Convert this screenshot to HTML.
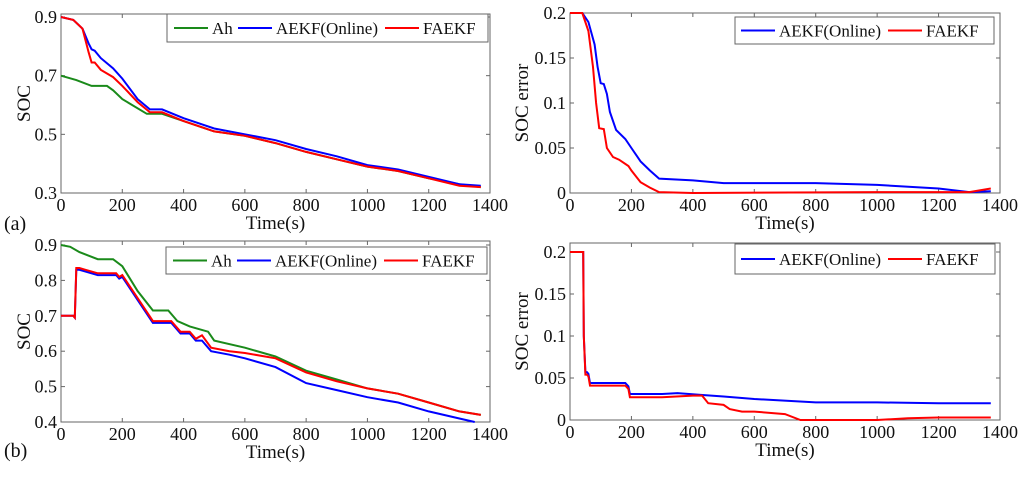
<!DOCTYPE html>
<html><head><meta charset="utf-8"><style>
body{margin:0;background:#fff;width:1024px;height:477px;overflow:hidden}
svg text{font-family:"Liberation Serif","Times New Roman",serif;}
</style></head><body>
<svg id="chart" width="1024" height="477" viewBox="0 0 1024 477"></svg>
<script>
// Panel (a)
const ahTa=[0,50,100,150,170,200,280,330,400,500,600,700,800,900,1000,1100,1200,1300,1370];
const ahA=[0.70,0.685,0.665,0.665,0.65,0.62,0.57,0.57,0.545,0.51,0.495,0.47,0.44,0.415,0.39,0.375,0.35,0.33,0.32];
const aekfTa=[0,40,70,90,100,110,130,170,200,250,290,330,400,500,600,700,800,900,1000,1100,1200,1300,1370];
const aekfA=[0.9,0.89,0.86,0.81,0.79,0.785,0.76,0.725,0.69,0.62,0.585,0.585,0.555,0.52,0.50,0.48,0.45,0.425,0.395,0.38,0.355,0.33,0.325];
const faekfA=[0.9,0.89,0.86,0.78,0.745,0.745,0.72,0.695,0.665,0.61,0.575,0.575,0.545,0.51,0.495,0.47,0.44,0.415,0.39,0.375,0.35,0.325,0.32];
// Panel (b)
const ahTb=[0,30,60,120,170,200,250,300,350,380,420,480,500,600,700,800,900,1000,1100,1200,1300,1370];
const ahB=[0.9,0.895,0.88,0.86,0.86,0.84,0.77,0.715,0.715,0.685,0.67,0.655,0.63,0.61,0.585,0.545,0.52,0.495,0.48,0.455,0.43,0.42];
const aekfTb=[0,40,45,50,60,80,120,180,190,200,250,300,360,390,420,440,460,490,550,600,700,800,900,1000,1100,1200,1300,1350];
const aekfB=[0.7,0.7,0.695,0.83,0.83,0.825,0.815,0.815,0.805,0.81,0.745,0.68,0.68,0.65,0.65,0.63,0.63,0.6,0.59,0.58,0.555,0.51,0.49,0.47,0.455,0.43,0.41,0.40];
const faekfTb=[0,40,45,50,60,80,120,180,190,200,250,300,360,390,420,440,460,490,550,600,700,800,900,1000,1100,1200,1300,1370];
const faekfB=[0.7,0.7,0.695,0.835,0.835,0.83,0.82,0.82,0.81,0.815,0.75,0.685,0.685,0.655,0.655,0.635,0.645,0.61,0.60,0.595,0.58,0.54,0.515,0.495,0.48,0.455,0.43,0.42];
// Panel (c) errors
const aekfTc=[0,40,60,80,90,100,110,120,130,150,180,200,230,260,290,400,500,800,1000,1200,1300,1370];
const aekfC=[0.2,0.2,0.19,0.165,0.14,0.122,0.121,0.11,0.09,0.07,0.06,0.05,0.035,0.025,0.016,0.014,0.011,0.011,0.009,0.005,0.001,0.002];
const faekfTc=[0,40,60,75,85,95,110,120,140,160,190,200,230,260,290,400,1000,1300,1370];
const faekfC=[0.2,0.2,0.18,0.14,0.1,0.072,0.071,0.05,0.04,0.037,0.03,0.025,0.012,0.006,0.001,0,0.001,0.001,0.005];
// Panel (d) errors
const aekfTd=[0,43,45,50,55,60,65,100,180,190,195,300,350,420,500,600,800,1000,1200,1370];
const aekfD=[0.2,0.2,0.1,0.057,0.057,0.055,0.044,0.044,0.044,0.04,0.031,0.031,0.032,0.03,0.028,0.025,0.021,0.021,0.02,0.02];
const faekfTd=[0,43,45,50,55,60,65,100,180,190,195,300,400,430,450,500,520,560,600,700,750,800,1000,1100,1200,1370];
const faekfD=[0.2,0.2,0.1,0.054,0.054,0.052,0.041,0.041,0.041,0.037,0.027,0.027,0.029,0.029,0.02,0.018,0.013,0.01,0.01,0.007,0,0,0,0.002,0.003,0.003];
const xTicks=[0,200,400,600,800,1000,1200,1400];
const yTicksA=["0.3","0.5","0.7","0.9"];
const yTicksB=["0.4","0.5","0.6","0.7","0.8","0.9"];
const yTicksErr=["0","0.05","0.1","0.15","0.2"];

const svg=document.getElementById('chart');
const NS='http://www.w3.org/2000/svg';
const FF='"Liberation Serif", serif';
function mk(tag,attrs,parent){const e=document.createElementNS(NS,tag);for(const k in attrs)e.setAttribute(k,attrs[k]);if(tag==='text')e.setAttribute('font-family',FF);(parent||svg).appendChild(e);return e;}

function panel(p){
  const g=mk('g',{});
  
  
  const sx=v=>p.x0+(v-0)/(1400)*(p.x1-p.x0);
  const sy=v=>p.yb+(v-p.ymin)/(p.ymax-p.ymin)*(p.yt-p.yb);
  const box=mk('rect',{x:p.x0,y:p.top,width:p.x1-p.x0,height:p.yb-p.top,fill:'none',stroke:'#666','stroke-width':1},g);
  
  xTicks.forEach(t=>{const x=sx(t);
    mk('line',{x1:x,x2:x,y1:p.yb,y2:p.yb-4,stroke:'#666'},g);
    mk('line',{x1:x,x2:x,y1:p.top,y2:p.top+4,stroke:'#666'},g);
    const tx=mk('text',{x:x,y:p.yb+18,'text-anchor':'middle','font-size':18,fill:'#111'},g);tx.textContent=t;
    });
  p.yticks.forEach(s=>{const y=sy(parseFloat(s));
    mk('line',{x1:p.x0,x2:p.x0+4,y1:y,y2:y,stroke:'#666'},g);
    mk('line',{x1:p.x1,x2:p.x1-4,y1:y,y2:y,stroke:'#666'},g);
    const tx=mk('text',{x:p.x0-4,y:y+6,'text-anchor':'end','font-size':18,fill:'#111'},g);tx.textContent=s;
    });
  const xl=mk('text',{x:(p.x0+p.x1)/2,y:p.yb+36,'text-anchor':'middle','font-size':19,fill:'#111'},g);xl.textContent='Time(s)';
  
  const yl=mk('text',{x:0,y:0,'text-anchor':'middle','font-size':19,fill:'#111',transform:`translate(${p.ylx},${(p.top+p.yb)/2}) rotate(-90)`},g);yl.textContent=p.ylabel;
  
  p.series.forEach(s=>{
    const pts=s.t.map((t,i)=>sx(t).toFixed(1)+','+sy(s.v[i]).toFixed(1)).join(' ');
    const l=mk('polyline',{points:pts,fill:'none',stroke:s.c,'stroke-width':2},g);
    
  });
  const L=p.legend;
  const lg=mk('g',{},g);
  
  mk('rect',{x:L.x,y:L.y,width:L.w,height:L.h,fill:'#fff',stroke:'#666'},lg);
  L.items.forEach(it=>{
    mk('line',{x1:it.x,x2:it.x+34,y1:L.y+L.h/2,y2:L.y+L.h/2,stroke:it.c,'stroke-width':2},lg);
    const tx=mk('text',{x:it.x+38,y:L.y+L.h/2+6,'font-size':17,fill:'#111'},lg);tx.textContent=it.label;
    
  });
}
const G='#1a8a1a',B='#0000ff',R='#ff0000';
panel({name:'panel-a',x0:61,x1:490,top:14,yt:17,yb:193,ymin:0.3,ymax:0.9,yticks:yTicksA,ylabel:'SOC',ylx:30,
  series:[{n:'ah-line',t:ahTa,v:ahA,c:G},{n:'aekf-line',t:aekfTa,v:aekfA,c:B},{n:'faekf-line',t:aekfTa,v:faekfA,c:R}],
  legend:{x:167,y:14,w:321,h:28,items:[{x:174,c:G,label:'Ah'},{x:238,c:B,label:'AEKF(Online)'},{x:385,c:R,label:'FAEKF'}]}});
panel({name:'panel-b',x0:61,x1:490,top:241,yt:245,yb:422,ymin:0.4,ymax:0.9,yticks:yTicksB,ylabel:'SOC',ylx:30,
  series:[{n:'ah-line',t:ahTb,v:ahB,c:G},{n:'aekf-line',t:aekfTb,v:aekfB,c:B},{n:'faekf-line',t:faekfTb,v:faekfB,c:R}],
  legend:{x:166,y:247,w:321,h:27,items:[{x:173,c:G,label:'Ah'},{x:237,c:B,label:'AEKF(Online)'},{x:384,c:R,label:'FAEKF'}]}});
panel({name:'panel-c',x0:570,x1:1000,top:13,yt:13,yb:193,ymin:0,ymax:0.2,yticks:yTicksErr,ylabel:'SOC error',ylx:528,
  series:[{n:'aekf-error-line',t:aekfTc,v:aekfC,c:B},{n:'faekf-error-line',t:faekfTc,v:faekfC,c:R}],
  legend:{x:735,y:17,w:259,h:27,items:[{x:741,c:B,label:'AEKF(Online)'},{x:888,c:R,label:'FAEKF'}]}});
panel({name:'panel-d',x0:570,x1:1000,top:243,yt:252,yb:420,ymin:0,ymax:0.2,yticks:yTicksErr,ylabel:'SOC error',ylx:528,
  series:[{n:'aekf-error-line',t:aekfTd,v:aekfD,c:B},{n:'faekf-error-line',t:faekfTd,v:faekfD,c:R}],
  legend:{x:735,y:244,w:260,h:30,items:[{x:741,c:B,label:'AEKF(Online)'},{x:888,c:R,label:'FAEKF'}]}});
const la=mk('text',{x:4,y:230,'font-size':20,fill:'#111'});la.textContent='(a)';

const lb=mk('text',{x:4,y:457,'font-size':20,fill:'#111'});lb.textContent='(b)';

</script>
</body></html>
